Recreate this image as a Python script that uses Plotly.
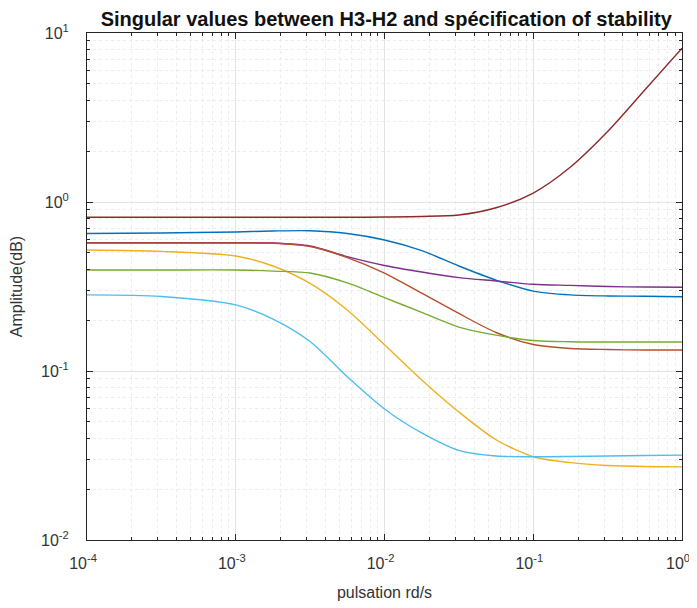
import plotly.graph_objects as go

# pulsation (rd/s)
pulsation = [1e-4, 3.16e-4, 1e-3, 1.78e-3, 3.16e-3, 5.62e-3, 1e-2, 1.78e-2,
             3.16e-2, 5.62e-2, 1e-1, 1.78e-1, 3.16e-1, 5.62e-1, 1.0]

# singular values
sv_top    = [0.812, 0.812, 0.812, 0.812, 0.812, 0.812, 0.815, 0.821,
             0.838, 0.925, 1.13, 1.61, 2.61, 4.60, 8.12]
sv_blue   = [0.651, 0.656, 0.665, 0.674, 0.676, 0.651, 0.596, 0.516,
             0.418, 0.345, 0.297, 0.282, 0.278, 0.277, 0.275]
sv_purple = [0.574, 0.574, 0.574, 0.572, 0.549, 0.475, 0.421, 0.385,
             0.357, 0.341, 0.326, 0.321, 0.316, 0.314, 0.313]
sv_orange = [0.572, 0.572, 0.572, 0.570, 0.545, 0.469, 0.380, 0.289,
             0.219, 0.169, 0.1435, 0.136, 0.134, 0.133, 0.133]
sv_yellow = [0.520, 0.510, 0.479, 0.418, 0.330, 0.2296, 0.143, 0.0885,
             0.0572, 0.0392, 0.0311, 0.0287, 0.0276, 0.0272, 0.0271]
sv_green  = [0.396, 0.396, 0.396, 0.390, 0.380, 0.332, 0.272, 0.222,
             0.182, 0.163, 0.1515, 0.149, 0.1484, 0.1484, 0.1484]
sv_cyan   = [0.282, 0.276, 0.246, 0.203, 0.1495, 0.0925, 0.0596, 0.0430,
             0.0339, 0.0314, 0.0311, 0.0312, 0.0314, 0.0316, 0.0318]

series = [
    (sv_top, "#8E2A2A"),
    (sv_blue, "#0072BD"),
    (sv_purple, "#7E2F8E"),
    (sv_orange, "#B5502A"),
    (sv_yellow, "#EDB120"),
    (sv_green, "#77AC30"),
    (sv_cyan, "#4DBEEE"),
]

x_tick_vals = [1e-4, 1e-3, 1e-2, 1e-1, 1e0]
x_tick_text = ["10<sup>-4</sup>", "10<sup>-3</sup>", "10<sup>-2</sup>", "10<sup>-1</sup>", "10<sup>0</sup>"]
y_tick_vals = [1e-2, 1e-1, 1e0, 1e1]
y_tick_text = ["10<sup>-2</sup>", "10<sup>-1</sup>", "10<sup>0</sup>", "10<sup>1</sup>"]

x_minor = [m * 10.0 ** e for e in range(-4, 0) for m in range(2, 10)]
y_minor = [m * 10.0 ** e for e in range(-2, 1) for m in range(2, 10)]

FONT = "Liberation Sans, Arial, sans-serif"

fig = go.Figure()
for vals, col in series:
    fig.add_trace(go.Scatter(x=pulsation, y=vals, mode="lines",
                             line=dict(color=col, width=1.4, shape="spline", smoothing=0.8),
                             showlegend=False, hoverinfo="skip"))

axis_common = dict(
    type="log", showline=True, linecolor="#262626", linewidth=1, mirror="ticks",
    ticks="inside", ticklen=6, tickcolor="#262626", automargin=False,
    showgrid=True, gridcolor="#E3E3E3", gridwidth=1, zeroline=False,
    tickfont=dict(family=FONT, size=16, color="#333333"),
)

fig.update_xaxes(**axis_common, range=[-4, 0], tickvals=x_tick_vals, ticktext=x_tick_text,
                 ticklabelstandoff=9, ticklabelshift=-4,
                 minor=dict(tickvals=x_minor, ticks="inside", ticklen=3, tickcolor="#262626",
                            showgrid=True, gridcolor="#ECECEC", griddash="dot"),
                 title=dict(text="pulsation rd/s",
                            font=dict(family=FONT, size=16, color="#333333")))
fig.update_yaxes(**axis_common, range=[-2, 1], tickvals=y_tick_vals, ticktext=y_tick_text,
                 ticklabelstandoff=14,
                 minor=dict(tickvals=y_minor, ticks="inside", ticklen=3, tickcolor="#262626",
                            showgrid=True, gridcolor="#ECECEC", griddash="dot"),
                 title=dict(text="Amplitude(dB)",
                            font=dict(family=FONT, size=16, color="#333333")))

fig.update_layout(
    width=689, height=600,
    margin=dict(l=79, r=15, t=25, b=68),
    paper_bgcolor="white", plot_bgcolor="white",
    title=dict(text="<b>Singular values between H3-H2 and spécification of stability</b>",
               x=0.549, xanchor="center", y=0.981, yanchor="middle",
               font=dict(family=FONT, size=20, color="#111111")),
)

fig.write_html("out.html")
